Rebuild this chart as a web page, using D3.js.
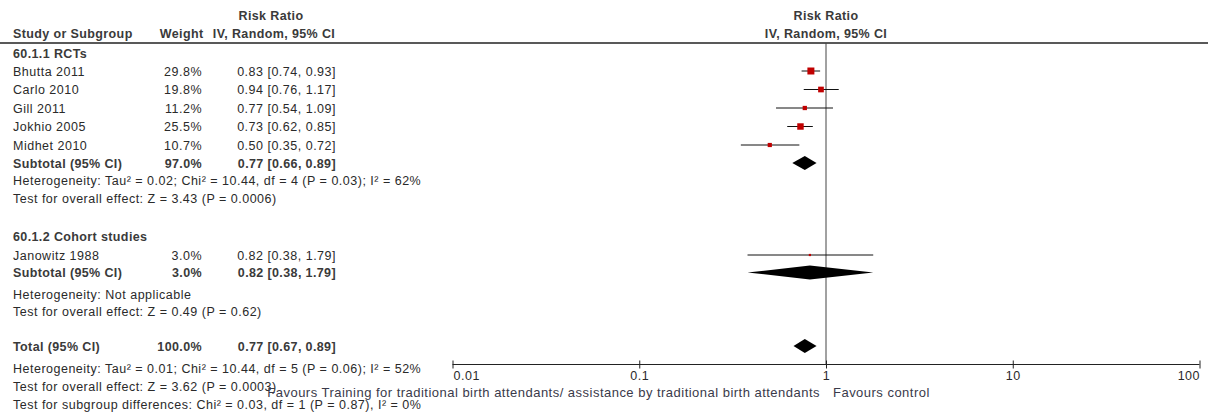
<!DOCTYPE html>
<html><head><meta charset="utf-8">
<script src="https://cdn.jsdelivr.net/npm/d3@7"></script>
<style>
html,body{margin:0;padding:0;background:#fff;}
svg text{font-family:"Liberation Sans",Arial,sans-serif;font-size:12.5px;letter-spacing:0.5px;fill:#2a2a2a;}
svg text.b{font-weight:bold;letter-spacing:0.38px;fill:#3a3a3a;}
svg text.fav{font-size:13px;letter-spacing:0.48px;fill:#3a3a4a;}
</style></head>
<body><svg id="c" width="1208" height="419"></svg>
<script>
// ---- data ----
const studies = ["Bhutta 2011","Carlo 2010","Gill 2011","Jokhio 2005","Midhet 2010","Janowitz 1988"];
const weights = [29.8,19.8,11.2,25.5,10.7,3.0];
const rr = [0.83,0.94,0.77,0.73,0.50,0.82];
const rrLo = [0.74,0.76,0.54,0.62,0.35,0.38];
const rrHi = [0.93,1.17,1.09,0.85,0.72,1.79];
const groupNames = ["60.1.1 RCTs","60.1.2 Cohort studies"];
const subWeights = [97.0,3.0];
const subRR = [0.77,0.82];
const subLo = [0.66,0.38];
const subHi = [0.89,1.79];
const subHet = ["Heterogeneity: Tau² = 0.02; Chi² = 10.44, df = 4 (P = 0.03); I² = 62%","Heterogeneity: Not applicable"];
const subTest = ["Test for overall effect: Z = 3.43 (P = 0.0006)","Test for overall effect: Z = 0.49 (P = 0.62)"];
const totalWeight = 100.0, totalRR = 0.77, totalLo = 0.67, totalHi = 0.89;
const totalNotes = ["Heterogeneity: Tau² = 0.01; Chi² = 10.44, df = 5 (P = 0.06); I² = 52%",
  "Test for overall effect: Z = 3.62 (P = 0.0003)",
  "Test for subgroup differences: Chi² = 0.03, df = 1 (P = 0.87), I² = 0%"];
const tickValues = [0.01,0.1,1,10,100];
const tickLabels = ["0.01","0.1","1","10","100"];
const favLeft = "Favours Training for traditional birth attendants/ assistance by traditional birth attendants";
const favRight = "Favours control";

// ---- layout ----
const svg = d3.select("#c");
const x = d3.scaleLog().domain([0.01,100]).range([452.5,1199.5]);
const colStudy = 13, colWeight = 202, colCI = 336, colHead = 271;
const fmt = d3.format(".2f");
const ciText = (m,l,h)=>`${fmt(m)} [${fmt(l)}, ${fmt(h)}]`;
const pct = w => d3.format(".1f")(w)+"%";

const rows = {
  g0:53, s:[71,89.5,108,126.5,145,255], sub:[163,272.5],
  het:[180.5,294], test:[198,311], g1:236,
  total:346, tn:[368,386,404]
};
const bl = 4.5;

// headers
svg.append("text").attr("class","b").attr("x",colHead).attr("y",20).attr("text-anchor","middle").text("Risk Ratio");
svg.append("text").attr("class","b").attr("x",colStudy).attr("y",38).text("Study or Subgroup");
svg.append("text").attr("class","b").attr("x",colWeight+1.5).attr("y",38).attr("text-anchor","end").text("Weight");
svg.append("text").attr("class","b").attr("x",colHead+3).attr("y",38).attr("text-anchor","middle").text("IV, Random, 95% CI");
svg.append("text").attr("class","b").attr("x",x(1)).attr("y",20).attr("text-anchor","middle").text("Risk Ratio");
svg.append("text").attr("class","b").attr("x",x(1)).attr("y",38).attr("text-anchor","middle").text("IV, Random, 95% CI");
svg.append("line").attr("x1",0).attr("x2",1208).attr("y1",43).attr("y2",43).attr("stroke","#222").attr("stroke-width",1.6);

svg.append("line").attr("x1",x(1)).attr("x2",x(1)).attr("y1",43).attr("y2",364.5).attr("stroke","#444").attr("stroke-width",1);

[rows.g0, rows.g1].forEach((y,i)=>{
  svg.append("text").attr("class","b").attr("x",colStudy).attr("y",y+bl).text(groupNames[i]);
});

studies.forEach((s,i)=>{
  const y = rows.s[i];
  svg.append("text").attr("x",colStudy).attr("y",y+bl).text(s);
  svg.append("text").attr("x",colWeight).attr("y",y+bl).attr("text-anchor","end").text(pct(weights[i]));
  svg.append("text").attr("x",colCI).attr("y",y+bl).attr("text-anchor","end").text(ciText(rr[i],rrLo[i],rrHi[i]));
  svg.append("line").attr("x1",x(rrLo[i])).attr("x2",x(rrHi[i])).attr("y1",y).attr("y2",y).attr("stroke","#111").attr("stroke-width",1);
  const sz = 1.28*Math.sqrt(weights[i]);
  svg.append("rect").attr("x",x(rr[i])-sz/2).attr("y",y-sz/2).attr("width",sz).attr("height",sz).attr("fill","#c00000");
});

function diamond(m,l,h,y){
  const hh = 7;
  svg.append("path").attr("d",`M${x(l)},${y}L${x(m)},${y-hh}L${x(h)},${y}L${x(m)},${y+hh}Z`).attr("fill","#000");
}

[0,1].forEach(g=>{
  const y = rows.sub[g];
  svg.append("text").attr("class","b").attr("x",colStudy).attr("y",y+bl).text("Subtotal (95% CI)");
  svg.append("text").attr("class","b").attr("x",colWeight).attr("y",y+bl).attr("text-anchor","end").text(pct(subWeights[g]));
  svg.append("text").attr("class","b").attr("x",colCI).attr("y",y+bl).attr("text-anchor","end").text(ciText(subRR[g],subLo[g],subHi[g]));
  diamond(subRR[g],subLo[g],subHi[g],y);
  svg.append("text").attr("x",colStudy).attr("y",rows.het[g]+bl).text(subHet[g]);
  svg.append("text").attr("x",colStudy).attr("y",rows.test[g]+bl).text(subTest[g]);
});

svg.append("text").attr("class","b").attr("x",colStudy).attr("y",rows.total+bl).text("Total (95% CI)");
svg.append("text").attr("class","b").attr("x",colWeight).attr("y",rows.total+bl).attr("text-anchor","end").text(pct(totalWeight));
svg.append("text").attr("class","b").attr("x",colCI).attr("y",rows.total+bl).attr("text-anchor","end").text(ciText(totalRR,totalLo,totalHi));
diamond(totalRR,totalLo,totalHi,rows.total);
totalNotes.forEach((t,i)=>{
  svg.append("text").attr("x",colStudy).attr("y",rows.tn[i]+bl).text(t);
});

// axis
const axis = d3.axisBottom(x).tickValues(tickValues).tickFormat((d,i)=>tickLabels[i]).tickSize(4).tickSizeOuter(0);
const ag = svg.append("g").attr("transform","translate(0,364.5)").call(axis);
ag.attr("font-family",null).attr("font-size",null);
ag.select(".domain").attr("stroke","#222").attr("d",`M${x(0.01)},0H${x(100)}`);
ag.selectAll(".tick line").attr("y1",-4).attr("y2",4).attr("stroke","#222");
ag.selectAll(".tick text").attr("y",7).attr("dy","0.71em").attr("fill","#2a2a2a")
  .attr("text-anchor",(d,i)=> i===0 ? "start" : (i===tickValues.length-1 ? "end" : "middle"))
  .attr("dx",(d,i)=> i===0 ? 0.5 : (i===tickValues.length-1 ? 0 : 0));

svg.append("text").attr("class","fav").attr("x",x(1)-6).attr("y",396.5).attr("text-anchor","end").text(favLeft);
svg.append("text").attr("class","fav").attr("x",x(1)+7).attr("y",396.5).text(favRight);
</script></body></html>
